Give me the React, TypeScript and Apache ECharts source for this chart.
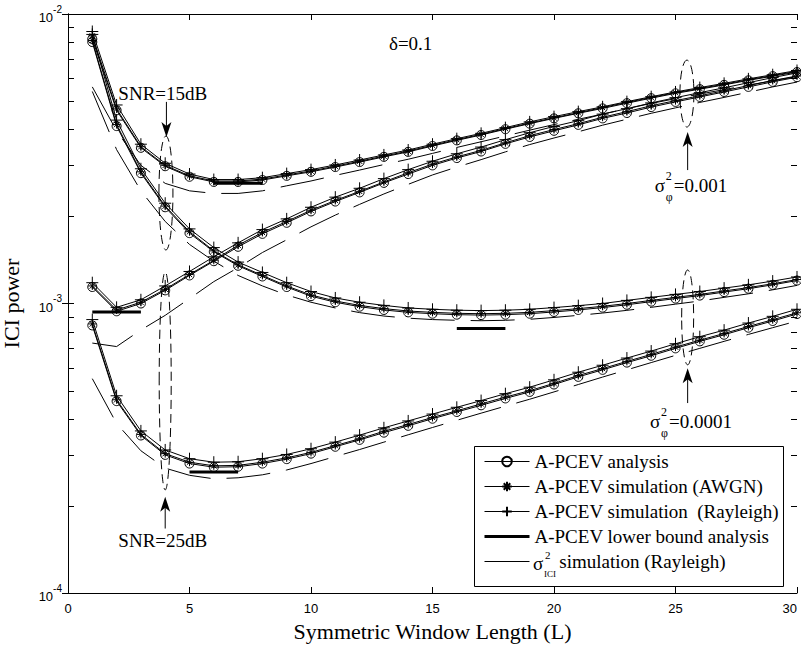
import { useEffect, useRef } from "react";
import * as echarts from "echarts";

// Symmetric window length L
const windowLength = [
  1, 2, 3, 4, 5, 6, 7, 8, 9, 10, 11, 12, 13, 14, 15, 16, 17, 18, 19, 20, 21, 22, 23, 24, 25, 26, 27,
  28, 29, 30,
];

// SNR = 15 dB, phase-noise variance 0.001
const snr15Var3Analysis = [
  8.2e-3, 4.65e-3, 3.45e-3, 2.98e-3, 2.74e-3, 2.63e-3, 2.63e-3, 2.67e-3, 2.76e-3, 2.85e-3, 2.96e-3,
  3.08e-3, 3.21e-3, 3.34e-3, 3.5e-3, 3.66e-3, 3.82e-3, 4.0e-3, 4.18e-3, 4.36e-3, 4.54e-3, 4.72e-3,
  4.92e-3, 5.12e-3, 5.32e-3, 5.5e-3, 5.69e-3, 5.9e-3, 6.1e-3, 6.3e-3,
];
const snr15Var3Awgn = [
  8.4e-3, 4.7e-3, 3.48e-3, 3.0e-3, 2.76e-3, 2.65e-3, 2.65e-3, 2.69e-3, 2.78e-3, 2.87e-3, 2.98e-3,
  3.1e-3, 3.23e-3, 3.36e-3, 3.52e-3, 3.68e-3, 3.84e-3, 4.02e-3, 4.2e-3, 4.38e-3, 4.56e-3, 4.75e-3,
  4.95e-3, 5.15e-3, 5.35e-3, 5.53e-3, 5.72e-3, 5.93e-3, 6.13e-3, 6.34e-3,
];
const snr15Var3Rayleigh = [
  8.7e-3, 4.85e-3, 3.55e-3, 3.05e-3, 2.8e-3, 2.68e-3, 2.68e-3, 2.72e-3, 2.81e-3, 2.9e-3, 3.01e-3,
  3.13e-3, 3.26e-3, 3.39e-3, 3.55e-3, 3.71e-3, 3.87e-3, 4.05e-3, 4.24e-3, 4.42e-3, 4.6e-3, 4.78e-3,
  4.98e-3, 5.18e-3, 5.38e-3, 5.57e-3, 5.76e-3, 5.97e-3, 6.17e-3, 6.38e-3,
];
const snr15Var3IciSim = [
  5.6e-3, 3.95e-3, 3.0e-3, 2.6e-3, 2.45e-3, 2.4e-3, 2.4e-3, 2.45e-3, 2.55e-3, 2.65e-3, 2.77e-3,
  2.89e-3, 3.02e-3, 3.15e-3, 3.3e-3, 3.46e-3, 3.62e-3, 3.79e-3, 3.97e-3, 4.15e-3, 4.33e-3, 4.51e-3,
  4.71e-3, 4.91e-3, 5.1e-3, 5.29e-3, 5.48e-3, 5.68e-3, 5.88e-3, 6.08e-3,
];
const snr15Var3BoundL = [6, 7, 8];
const snr15Var3Bound = [2.6e-3, 2.6e-3, 2.6e-3];

// SNR = 15 dB, phase-noise variance 0.0001
const snr15Var4Analysis = [
  8.0e-3, 4.1e-3, 2.82e-3, 2.15e-3, 1.75e-3, 1.51e-3, 1.35e-3, 1.24e-3, 1.14e-3, 1.06e-3, 1.01e-3,
  9.75e-4, 9.5e-4, 9.32e-4, 9.22e-4, 9.15e-4, 9.12e-4, 9.15e-4, 9.22e-4, 9.35e-4, 9.5e-4, 9.68e-4,
  9.9e-4, 1.015e-3, 1.04e-3, 1.065e-3, 1.095e-3, 1.125e-3, 1.16e-3, 1.2e-3,
];
const snr15Var4Awgn = [
  8.1e-3, 4.15e-3, 2.85e-3, 2.17e-3, 1.77e-3, 1.52e-3, 1.36e-3, 1.25e-3, 1.15e-3, 1.07e-3, 1.02e-3,
  9.85e-4, 9.6e-4, 9.42e-4, 9.32e-4, 9.25e-4, 9.22e-4, 9.25e-4, 9.32e-4, 9.45e-4, 9.6e-4, 9.78e-4,
  1.0e-3, 1.025e-3, 1.05e-3, 1.075e-3, 1.105e-3, 1.135e-3, 1.17e-3, 1.21e-3,
];
const snr15Var4Rayleigh = [
  8.5e-3, 4.3e-3, 2.92e-3, 2.22e-3, 1.81e-3, 1.56e-3, 1.39e-3, 1.28e-3, 1.18e-3, 1.1e-3, 1.045e-3,
  1.01e-3, 9.85e-4, 9.65e-4, 9.55e-4, 9.48e-4, 9.45e-4, 9.48e-4, 9.55e-4, 9.68e-4, 9.83e-4, 1.0e-3,
  1.025e-3, 1.05e-3, 1.075e-3, 1.1e-3, 1.13e-3, 1.16e-3, 1.195e-3, 1.235e-3,
];
const snr15Var4IciSim = [
  5.4e-3, 3.4e-3, 2.45e-3, 1.92e-3, 1.6e-3, 1.4e-3, 1.25e-3, 1.15e-3, 1.07e-3, 1.01e-3, 9.65e-4,
  9.3e-4, 9.05e-4, 8.9e-4, 8.8e-4, 8.75e-4, 8.72e-4, 8.75e-4, 8.82e-4, 8.95e-4, 9.1e-4, 9.27e-4,
  9.47e-4, 9.7e-4, 9.95e-4, 1.02e-3, 1.05e-3, 1.08e-3, 1.115e-3, 1.155e-3,
];
const snr15Var4BoundL = [16, 17, 18];
const snr15Var4Bound = [8.2e-4, 8.2e-4, 8.2e-4];

// SNR = 25 dB, phase-noise variance 0.001
const snr25Var3Analysis = [
  1.14e-3, 9.4e-4, 1.0e-3, 1.11e-3, 1.25e-3, 1.4e-3, 1.57e-3, 1.74e-3, 1.9e-3, 2.08e-3, 2.25e-3,
  2.42e-3, 2.61e-3, 2.8e-3, 3.0e-3, 3.18e-3, 3.35e-3, 3.56e-3, 3.76e-3, 3.95e-3, 4.14e-3, 4.36e-3,
  4.55e-3, 4.77e-3, 4.97e-3, 5.17e-3, 5.38e-3, 5.6e-3, 5.83e-3, 6.05e-3,
];
const snr25Var3Awgn = [
  1.15e-3, 9.5e-4, 1.01e-3, 1.12e-3, 1.26e-3, 1.41e-3, 1.59e-3, 1.76e-3, 1.92e-3, 2.1e-3, 2.27e-3,
  2.44e-3, 2.63e-3, 2.83e-3, 3.03e-3, 3.21e-3, 3.38e-3, 3.59e-3, 3.8e-3, 3.99e-3, 4.18e-3, 4.4e-3,
  4.6e-3, 4.82e-3, 5.02e-3, 5.22e-3, 5.43e-3, 5.66e-3, 5.89e-3, 6.11e-3,
];
const snr25Var3Rayleigh = [
  1.18e-3, 9.7e-4, 1.03e-3, 1.15e-3, 1.29e-3, 1.45e-3, 1.62e-3, 1.8e-3, 1.96e-3, 2.15e-3, 2.33e-3,
  2.5e-3, 2.7e-3, 2.9e-3, 3.1e-3, 3.29e-3, 3.47e-3, 3.68e-3, 3.89e-3, 4.09e-3, 4.28e-3, 4.51e-3,
  4.71e-3, 4.93e-3, 5.14e-3, 5.35e-3, 5.56e-3, 5.79e-3, 6.03e-3, 6.26e-3,
];
const snr25Var3IciSim = [
  7.3e-4, 7.1e-4, 8.1e-4, 9.1e-4, 1.04e-3, 1.19e-3, 1.33e-3, 1.5e-3, 1.66e-3, 1.84e-3, 2.02e-3,
  2.2e-3, 2.39e-3, 2.58e-3, 2.78e-3, 2.96e-3, 3.14e-3, 3.34e-3, 3.54e-3, 3.73e-3, 3.92e-3, 4.13e-3,
  4.33e-3, 4.54e-3, 4.74e-3, 4.95e-3, 5.15e-3, 5.37e-3, 5.6e-3, 5.82e-3,
];
const snr25Var3BoundL = [1, 2, 3];
const snr25Var3Bound = [9.35e-4, 9.35e-4, 9.35e-4];

// SNR = 25 dB, phase-noise variance 0.0001
const snr25Var4Analysis = [
  8.4e-4, 4.6e-4, 3.5e-4, 3.0e-4, 2.8e-4, 2.72e-4, 2.73e-4, 2.8e-4, 2.9e-4, 3.03e-4, 3.2e-4,
  3.38e-4, 3.58e-4, 3.78e-4, 4.0e-4, 4.22e-4, 4.45e-4, 4.7e-4, 4.95e-4, 5.25e-4, 5.58e-4, 5.9e-4,
  6.25e-4, 6.6e-4, 7.0e-4, 7.4e-4, 7.8e-4, 8.25e-4, 8.7e-4, 9.2e-4,
];
const snr25Var4Awgn = [
  8.5e-4, 4.65e-4, 3.53e-4, 3.03e-4, 2.83e-4, 2.75e-4, 2.76e-4, 2.83e-4, 2.93e-4, 3.06e-4, 3.23e-4,
  3.41e-4, 3.62e-4, 3.82e-4, 4.04e-4, 4.26e-4, 4.5e-4, 4.75e-4, 5.0e-4, 5.3e-4, 5.64e-4, 5.96e-4,
  6.31e-4, 6.67e-4, 7.07e-4, 7.47e-4, 7.88e-4, 8.33e-4, 8.79e-4, 9.29e-4,
];
const snr25Var4Rayleigh = [
  8.8e-4, 4.8e-4, 3.63e-4, 3.12e-4, 2.91e-4, 2.83e-4, 2.84e-4, 2.91e-4, 3.01e-4, 3.15e-4, 3.32e-4,
  3.51e-4, 3.72e-4, 3.93e-4, 4.15e-4, 4.38e-4, 4.62e-4, 4.88e-4, 5.14e-4, 5.45e-4, 5.79e-4, 6.12e-4,
  6.48e-4, 6.85e-4, 7.26e-4, 7.68e-4, 8.09e-4, 8.56e-4, 9.03e-4, 9.55e-4,
];
const snr25Var4IciSim = [
  5.5e-4, 3.85e-4, 3.1e-4, 2.7e-4, 2.55e-4, 2.48e-4, 2.5e-4, 2.56e-4, 2.66e-4, 2.8e-4, 2.96e-4,
  3.13e-4, 3.32e-4, 3.52e-4, 3.73e-4, 3.95e-4, 4.18e-4, 4.42e-4, 4.67e-4, 4.95e-4, 5.25e-4, 5.57e-4,
  5.9e-4, 6.25e-4, 6.62e-4, 7.0e-4, 7.4e-4, 7.82e-4, 8.25e-4, 8.7e-4,
];
const snr25Var4BoundL = [5, 6, 7];
const snr25Var4Bound = [2.62e-4, 2.62e-4, 2.62e-4];

// Axis settings and tick labels
const xTicks = [0, 5, 10, 15, 20, 25, 30];
const yMin = 1e-4;
const yMax = 1e-2;
const minorMultipliers = [2, 3, 4, 5, 6, 7, 8, 9];
const minorDecades = [1e-4, 1e-3];

const NAME_ANALYSIS = "A-PCEV analysis";
const NAME_AWGN = "A-PCEV simulation (AWGN)";
const NAME_RAYLEIGH = "A-PCEV simulation  (Rayleigh)";
const NAME_BOUND = "A-PCEV lower bound analysis";
const NAME_ICI = "σ2ICI simulation (Rayleigh)";

const SERIF = '"Liberation Serif", "Times New Roman", serif';
const SANS = '"Liberation Sans", Arial, sans-serif';

const PLUS = "path://M5,0L5,10M0,5L10,5";
const ASTERISK = "path://M5,0L5,10M0,5L10,5M1.6,1.6L8.4,8.4M8.4,1.6L1.6,8.4";
const CLEAR = "rgba(0,0,0,0)";

type Curve = {
  analysis: number[];
  awgn: number[];
  rayleigh: number[];
  iciSim: number[];
  boundL: number[];
  bound: number[];
};

const curves: Curve[] = [
  {
    analysis: snr15Var3Analysis,
    awgn: snr15Var3Awgn,
    rayleigh: snr15Var3Rayleigh,
    iciSim: snr15Var3IciSim,
    boundL: snr15Var3BoundL,
    bound: snr15Var3Bound,
  },
  {
    analysis: snr15Var4Analysis,
    awgn: snr15Var4Awgn,
    rayleigh: snr15Var4Rayleigh,
    iciSim: snr15Var4IciSim,
    boundL: snr15Var4BoundL,
    bound: snr15Var4Bound,
  },
  {
    analysis: snr25Var3Analysis,
    awgn: snr25Var3Awgn,
    rayleigh: snr25Var3Rayleigh,
    iciSim: snr25Var3IciSim,
    boundL: snr25Var3BoundL,
    bound: snr25Var3Bound,
  },
  {
    analysis: snr25Var4Analysis,
    awgn: snr25Var4Awgn,
    rayleigh: snr25Var4Rayleigh,
    iciSim: snr25Var4IciSim,
    boundL: snr25Var4BoundL,
    bound: snr25Var4Bound,
  },
];

const zip = (xs: number[], ys: number[]) => xs.map((x, i) => [x, ys[i]]);

const markerSeries = (name: string, data: number[], symbol: string, size: number) => ({
  name,
  type: "line",
  data: zip(windowLength, data),
  symbol,
  symbolSize: size,
  lineStyle: { color: "#000", width: 1 },
  itemStyle: { color: CLEAR, borderColor: "#000", borderWidth: 1 },
  emphasis: { disabled: true },
});

function buildSeries() {
  const out: any[] = [];
  curves.forEach((c) => {
    out.push({
      name: NAME_ICI,
      type: "line",
      data: zip(windowLength, c.iciSim),
      symbol: "none",
      lineStyle: { color: "#000", width: 1, type: [44, 16] },
      itemStyle: { color: CLEAR, borderColor: CLEAR, borderWidth: 0 },
      emphasis: { disabled: true },
    });
    out.push({
      name: NAME_BOUND,
      type: "line",
      data: zip(c.boundL, c.bound),
      symbol: "none",
      lineStyle: { color: "#000", width: 3 },
      itemStyle: { color: CLEAR, borderColor: CLEAR, borderWidth: 0 },
      emphasis: { disabled: true },
    });
    out.push(markerSeries(NAME_ANALYSIS, c.analysis, "circle", 9));
    out.push(markerSeries(NAME_AWGN, c.awgn, ASTERISK, 8));
    out.push(markerSeries(NAME_RAYLEIGH, c.rayleigh, PLUS, 12));
  });
  return out;
}

const tickStyle = { show: true, inside: true, length: 6, lineStyle: { color: "#000", width: 1 } };
const lineAxis = { show: true, lineStyle: { color: "#000", width: 1 } };

export default function App() {
  const ref = useRef<HTMLDivElement>(null);

  useEffect(() => {
    if (!ref.current) return;
    const chart = echarts.init(ref.current, null, { renderer: "svg" });

    const option: any = {
      animation: false,
      backgroundColor: "#fff",
      grid: {
        left: 68,
        right: 4,
        top: 14,
        bottom: 52,
        containLabel: false,
        outerBoundsMode: "none",
      },
      xAxis: [
        {
          type: "value",
          min: xTicks[0],
          max: xTicks[xTicks.length - 1],
          interval: 5,
          position: "bottom",
          axisLine: lineAxis,
          axisTick: tickStyle,
          splitLine: { show: false },
          axisLabel: {
            color: "#000",
            fontFamily: SANS,
            fontSize: 13,
            margin: 9,
            alignMaxLabel: "right",
          },
          name: "Symmetric Window Length (L)",
          nameLocation: "middle",
          nameGap: 27,
          nameTextStyle: { color: "#000", fontFamily: SERIF, fontSize: 22 },
        },
        {
          type: "value",
          min: xTicks[0],
          max: xTicks[xTicks.length - 1],
          interval: 5,
          position: "top",
          axisLine: lineAxis,
          axisTick: tickStyle,
          splitLine: { show: false },
          axisLabel: { show: false },
        },
      ],
      yAxis: [
        {
          type: "log",
          logBase: 10,
          min: yMin,
          max: yMax,
          position: "left",
          axisLine: lineAxis,
          axisTick: tickStyle,
          splitLine: { show: false },
          axisLabel: {
            margin: 6,
            formatter: (v: number) => `{b|10}{e|${Math.round(Math.log10(v))}}`,
            rich: {
              b: { fontFamily: SANS, fontSize: 13, color: "#000", lineHeight: 20, verticalAlign: "bottom" },
              e: { fontFamily: SANS, fontSize: 10, color: "#000", lineHeight: 10, verticalAlign: "top" },
            },
          },
          name: "ICI power",
          nameLocation: "middle",
          nameGap: 46,
          nameRotate: 90,
          nameTextStyle: { color: "#000", fontFamily: SERIF, fontSize: 22 },
        },
        {
          type: "log",
          logBase: 10,
          min: yMin,
          max: yMax,
          position: "right",
          axisLine: lineAxis,
          axisTick: tickStyle,
          splitLine: { show: false },
          axisLabel: { show: false },
        },
      ],
      legend: {
        orient: "vertical",
        left: 483,
        top: 449,
        padding: 0,
        itemGap: 0,
        itemWidth: 45,
        itemHeight: 12,
        selectedMode: false,
        data: [NAME_ANALYSIS, NAME_AWGN, NAME_RAYLEIGH, NAME_BOUND, NAME_ICI],
        lineStyle: { type: "solid", width: "inherit" },
        textStyle: {
          color: "#000",
          fontFamily: SERIF,
          fontSize: 19,
          lineHeight: 25,
          rich: { gap: { width: 20, fontSize: 19, lineHeight: 25 } },
        },
        formatter: (name: string) => (name === NAME_ICI ? "{gap|} simulation (Rayleigh)" : name),
      },
      series: buildSeries(),
    };

    chart.setOption(option);

    const px = (x: number, y: number) =>
      chart.convertToPixel({ xAxisIndex: 0, yAxisIndex: 0 }, [x, y]) as number[];

    const plotLeft = px(0, yMin)[0];
    const plotRight = px(30, yMin)[0];

    const g: any[] = [];

    // log-scale minor ticks (2..9 within each decade), on both sides
    minorDecades.forEach((d) => {
      minorMultipliers.forEach((m) => {
        const y = Math.round(px(0, d * m)[1]) + 0.5;
        g.push({ type: "line", silent: true, shape: { x1: plotLeft, y1: y, x2: plotLeft + 6, y2: y }, style: { stroke: "#000", lineWidth: 1 } });
        g.push({ type: "line", silent: true, shape: { x1: plotRight - 6, y1: y, x2: plotRight, y2: y }, style: { stroke: "#000", lineWidth: 1 } });
      });
    });

    const txt = (x: number, y: number, text: string, size: number, align = "center") => ({
      type: "text",
      silent: true,
      x,
      y,
      style: { text, fontFamily: SERIF, fontSize: size, fill: "#000", align, verticalAlign: "middle" },
    });

    const ellipse = (l: number, top: number, bottom: number, rx: number) => {
      const [cx, y1] = px(l, top);
      const y2 = px(l, bottom)[1];
      return {
        type: "ellipse",
        silent: true,
        shape: { cx, cy: (y1 + y2) / 2, rx, ry: (y2 - y1) / 2 },
        style: { fill: "none", stroke: "#000", lineWidth: 1, lineDash: [9, 5] },
      };
    };

    const arrow = (l: number, tipV: number, tailV: number) => {
      const [x, ty] = px(l, tipV);
      const tail = px(l, tailV)[1];
      const dir = tail > ty ? 1 : -1; // +1: arrow points up
      const head = 15;
      return [
        { type: "line", silent: true, shape: { x1: x, y1: tail, x2: x, y2: ty + dir * 10 }, style: { stroke: "#000", lineWidth: 1 } },
        {
          type: "polygon",
          silent: true,
          shape: {
            points: [
              [x, ty],
              [x - 5, ty + dir * head],
              [x, ty + dir * 11],
              [x + 5, ty + dir * head],
            ],
          },
          style: { fill: "#000" },
        },
      ];
    };

    const sigmaPhi = (l: number, v: number, suffix: string) => {
      const [x, y] = px(l, v);
      return [
        txt(x, y, "σ", 19, "left"),
        txt(x + 11, y - 10, "2", 12, "left"),
        txt(x + 11, y + 11, "φ", 12, "left"),
        txt(x + 19, y, suffix, 19, "left"),
      ];
    };

    // delta label
    const d = px(14.1, 7.94e-3);
    g.push(txt(d[0], d[1], "δ=0.1", 19));

    // SNR = 15 dB marker group
    const s15 = px(3.9, 5.33e-3);
    g.push(txt(s15[0], s15[1], "SNR=15dB", 19));
    g.push(...arrow(4.05, 3.76e-3, 4.97e-3));
    g.push(ellipse(4.03, 3.79e-3, 1.53e-3, 7));

    // SNR = 25 dB marker group
    g.push(ellipse(4.0, 1.285e-3, 2.27e-4, 6));
    g.push(...arrow(4.0, 2.15e-4, 1.67e-4));
    const s25 = px(3.9, 1.52e-4);
    g.push(txt(s25[0], s25[1], "SNR=25dB", 19));

    // phase-noise variance 0.001
    g.push(ellipse(25.47, 6.93e-3, 4.07e-3, 7));
    g.push(...arrow(25.5, 3.91e-3, 2.89e-3));
    g.push(...sigmaPhi(24.15, 2.55e-3, "=0.001"));

    // phase-noise variance 0.0001
    g.push(ellipse(25.5, 1.306e-3, 6.14e-4, 6));
    g.push(...arrow(25.5, 5.98e-4, 4.53e-4));
    g.push(...sigmaPhi(23.95, 3.9e-4, "=0.0001"));

    // legend frame and the stacked symbol of the last entry
    g.push({
      type: "rect",
      silent: true,
      shape: { x: 474.5, y: 446.5, width: 309, height: 140 },
      style: { fill: "none", stroke: "#000", lineWidth: 1 },
      z: -1,
    });
    g.push(txt(533, 563, "σ", 19, "left"));
    g.push(txt(545, 555, "2", 11, "left"));
    g.push(txt(544, 574, "ICI", 9, "left"));

    chart.setOption({ graphic: g });

    return () => chart.dispose();
  }, []);

  return <div ref={ref} style={{ position: "fixed", left: 0, top: 0, width: 801, height: 645 }} />;
}
